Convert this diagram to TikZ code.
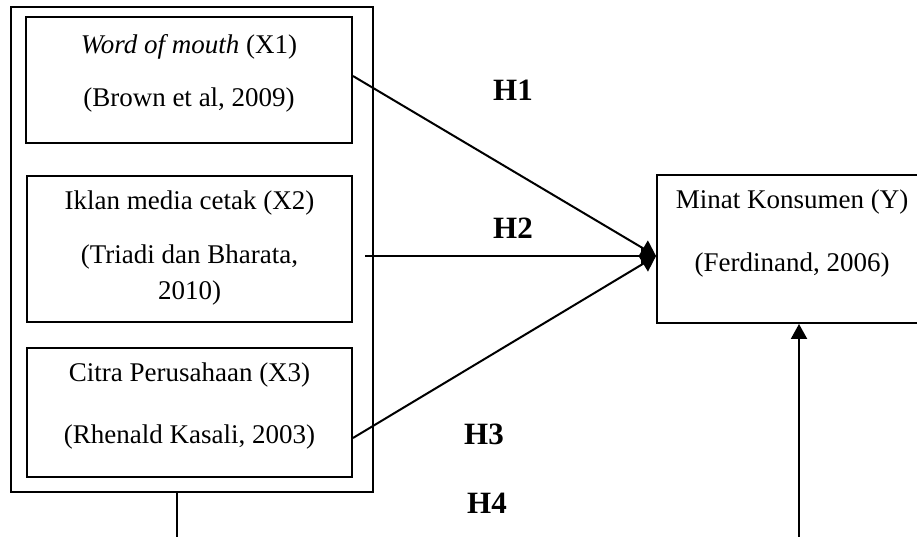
\documentclass[tikz,border=0pt]{standalone}
\usepackage{fontspec}
\setmainfont{Liberation Serif}
\usetikzlibrary{arrows.meta}

\tikzset{
    frame/.style={draw, line width=1.9pt, inner sep=0pt},
    boxtext/.style={inner sep=0pt, font=\fontsize{27}{32}\selectfont, align=center},
    hyp/.style={inner sep=0pt, font=\fontsize{31}{36}\selectfont\bfseries},
    link/.style={line width=2pt, -{Triangle[length=15pt,width=18pt]}}
}

\begin{document}
\begin{tikzpicture}[x=1pt,y=-1pt]
    \useasboundingbox (0,0) rectangle (917,536);

    % outer group
    \node[frame, minimum width=362pt, minimum height=485pt] (grp) at (192,249.5) {};

    % independent variables
    \node[frame, minimum width=326pt, minimum height=126pt] (x1) at (189,80) {};
    \node[boxtext] (x1a) at (189,47) {\textit{Word of mouth} (X1)};
    \node[boxtext] (x1b) at (189,100) {(Brown et al, 2009)};

    \node[frame, minimum width=325pt, minimum height=146pt] (x2) at (189.5,249) {};
    \node[boxtext] (x2a) at (189.5,203) {Iklan media cetak (X2)};
    \node[boxtext] (x2b) at (189.5,257) {(Triadi dan Bharata,};
    \node[boxtext] (x2c) at (189.5,293) {2010)};

    \node[frame, minimum width=325pt, minimum height=129pt] (x3) at (189.5,412.5) {};
    \node[boxtext] (x3a) at (189.5,375) {Citra Perusahaan (X3)};
    \node[boxtext] (x3b) at (189.5,437) {(Rhenald Kasali, 2003)};

    % dependent variable
    \begin{scope}
        \clip (0,0) rectangle (917,536);
        \node[frame, minimum width=270pt, minimum height=148pt] (y) at (792,249) {};
    \end{scope}
    \node[boxtext] (ya) at (792,202) {Minat Konsumen (Y)};
    \node[boxtext] (yb) at (792,265) {(Ferdinand, 2006)};

    % hypotheses
    \coordinate (tip) at (y.west |- 0,256);
    \draw[link] (x1.east |- 0,76) -- (tip);
    \draw[link] (365,256) -- (tip);
    \draw[link] (x3.east |- 0,438) -- (tip);

    \node[hyp] (h1) at (513,90) {H1};
    \node[hyp] (h2) at (513,228) {H2};
    \node[hyp] (h3) at (484,434) {H3};
    \node[hyp] (h4) at (487,503) {H4};

    % simultaneous
    \coordinate (lowL) at (177,540);
    \coordinate (lowR) at (799,540);
    \draw[line width=2pt] (grp.south -| lowL) -- (lowL);
    \draw[line width=2pt, -{Triangle[length=15pt,width=16pt]}] (lowR) -- (lowR |- y.south);
\end{tikzpicture}
\end{document}
